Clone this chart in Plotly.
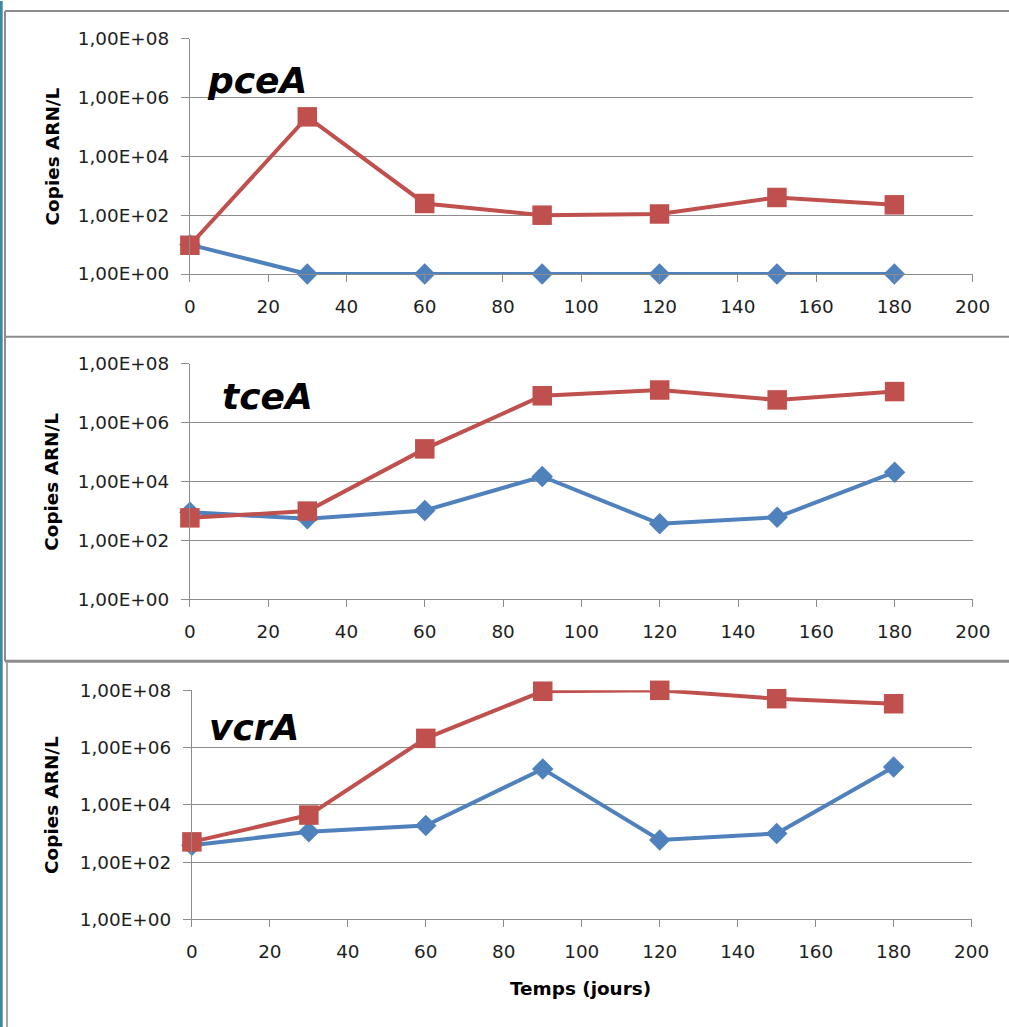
import plotly.graph_objects as go

# ---- data ----
days = [0, 30, 60, 90, 120, 150, 180]
pceA_blue = [10, 1, 1, 1, 1, 1, 1]
pceA_red = [9.5, 2.2e5, 250, 100, 110, 400, 225]
tceA_blue = [920, 550, 1050, 1.5e4, 370, 620, 2.1e4]
tceA_red = [590, 1000, 1.3e5, 8.3e6, 1.3e7, 6.0e6, 1.15e7]
vcrA_blue = [390, 1140, 1900, 1.8e5, 590, 1000, 2.1e5]
vcrA_red = [510, 4400, 2.1e6, 9.3e7, 1.0e8, 5.1e7, 3.4e7]

gene_names = ["pceA", "tceA", "vcrA"]
ytick_vals = [1, 1e2, 1e4, 1e6, 1e8]
ytick_text = ["1,00E+00", "1,00E+02", "1,00E+04", "1,00E+06", "1,00E+08"]
xtick_vals = [0, 20, 40, 60, 80, 100, 120, 140, 160, 180, 200]
ytitle = "Copies ARN/L"
xtitle = "Temps (jours)"

# viewer scale compensation
SX, SY = 0.976, 0.981
W, H = 1040, 1052
BLUE = "#4F81BD"
RED = "#C0504D"
GRID = "#8C8C8C"
TXT = "#1e1e1e"
FONT = "DejaVu Sans"
FS = 18.4

def px(x):
    return (x / SX) / W

def py(y):
    return 1 - (y / SY) / H

# plot areas in target pixels: (x0, x1, ytop, ybottom)
areas = [
    (190.7, 972.7, 37.7, 273.3),
    (190.7, 973.0, 363.3, 599.0),
    (192.7, 971.7, 690.0, 919.3),
]

series = [(pceA_blue, pceA_red), (tceA_blue, tceA_red), (vcrA_blue, vcrA_red)]
title_pos = [(258, 80), (268, 396), (255, 727)]

fig = go.Figure()
layout = dict(
    width=W, height=H,
    margin=dict(l=0, r=0, t=0, b=0),
    paper_bgcolor="white", plot_bgcolor="white",
    showlegend=False,
    font=dict(family=FONT, size=FS, color=TXT),
)

annotations = []
for i, ((b, r), area) in enumerate(zip(series, areas)):
    n = "" if i == 0 else str(i + 1)
    xa, ya = "x" + n, "y" + n
    fig.add_trace(go.Scatter(
        x=days, y=b, xaxis=xa, yaxis=ya, mode="lines+markers",
        line=dict(color=BLUE, width=4), cliponaxis=False,
        marker=dict(symbol="diamond", size=16.5, color=BLUE, line=dict(width=0)),
        name="blue"))
    fig.add_trace(go.Scatter(
        x=days, y=r, xaxis=xa, yaxis=ya, mode="lines+markers",
        line=dict(color=RED, width=4), cliponaxis=False,
        marker=dict(symbol="square", size=19.5, color=RED, line=dict(width=0)),
        name="red"))
    x0, x1, yt, yb = area
    layout["xaxis" + n] = dict(
        domain=[px(x0), px(x1)], range=[0, 200], anchor=ya,
        tickvals=xtick_vals, ticks="outside", ticklen=7, tickcolor=GRID,
        showline=True, linecolor=GRID, linewidth=1, showgrid=False,
        zeroline=False, ticklabelstandoff=9,
        tickfont=dict(family=FONT, size=FS, color=TXT),
    )
    layout["yaxis" + n] = dict(
        domain=[py(yb), py(yt)], type="log", range=[0, 8], anchor=xa,
        tickvals=ytick_vals, ticktext=ytick_text,
        ticks="outside", ticklen=8, tickcolor=GRID,
        showline=True, linecolor=GRID, linewidth=1,
        showgrid=True, gridcolor=GRID, gridwidth=1,
        zeroline=False, ticklabelstandoff=8,
        tickfont=dict(family=FONT, size=FS, color=TXT),
    )
    annotations.append(dict(
        text="<b>" + ytitle + "</b>", textangle=-90,
        x=px(53), y=py((yt + yb) / 2), xref="paper", yref="paper",
        xanchor="center", yanchor="middle", showarrow=False,
        font=dict(family=FONT, size=FS, color="black")))
    tx, ty = title_pos[i]
    annotations.append(dict(
        text="<b><i>" + gene_names[i] + "</i></b>",
        x=px(tx), y=py(ty), xref="paper", yref="paper",
        xanchor="center", yanchor="middle", showarrow=False,
        font=dict(family=FONT, size=36, color="black")))

annotations.append(dict(
    text="<b>" + xtitle + "</b>", x=px(581), y=py(988),
    xref="paper", yref="paper", xanchor="center", yanchor="middle",
    showarrow=False, font=dict(family=FONT, size=FS, color="black")))

shapes = [
    # teal left border
    dict(type="line", xref="paper", yref="paper", x0=px(2.2), x1=px(2.2), y0=0, y1=1,
         line=dict(color="#3C8AA0", width=3)),
    # panel frames
    dict(type="line", xref="paper", yref="paper", x0=px(6), x1=1, y0=py(10), y1=py(10),
         line=dict(color="#8C8C8C", width=2)),
    dict(type="line", xref="paper", yref="paper", x0=px(6), x1=px(6), y0=py(10), y1=py(661),
         line=dict(color="#8C8C8C", width=2)),
    dict(type="line", xref="paper", yref="paper", x0=px(6), x1=1, y0=py(336), y1=py(336),
         line=dict(color="#8C8C8C", width=2)),
    dict(type="line", xref="paper", yref="paper", x0=px(6), x1=1, y0=py(661), y1=py(661),
         line=dict(color="#8C8C8C", width=3)),
    dict(type="line", xref="paper", yref="paper", x0=px(8), x1=px(8), y0=py(662), y1=0,
         line=dict(color="#A6A6A6", width=2)),
]

layout["annotations"] = annotations
layout["shapes"] = shapes
fig.update_layout(**layout)

post = ("document.documentElement.style.margin='0';"
        "document.documentElement.style.padding='0';"
        "document.body.style.margin='-10px 0 0 -7px';"
        "document.body.style.padding='0';"
        "document.body.style.overflow='hidden';")
fig.write_html("out.html", post_script=post, config={"displayModeBar": False})
